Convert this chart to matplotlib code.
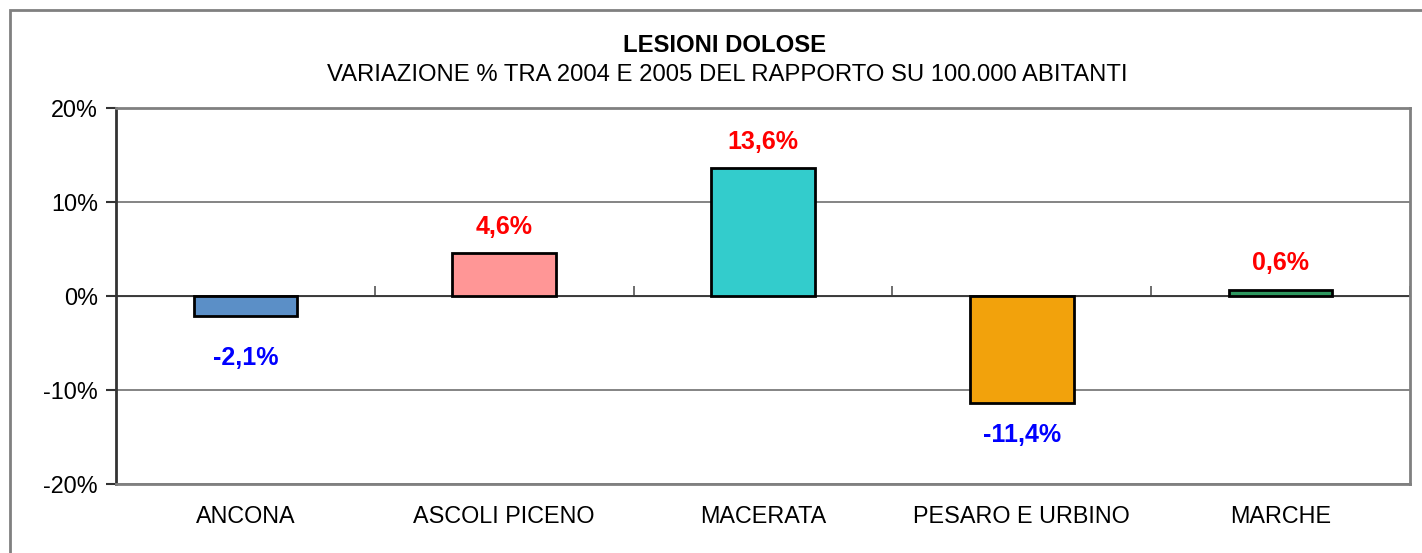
import matplotlib.pyplot as plt
from matplotlib.patches import Rectangle
from matplotlib.ticker import FuncFormatter

plt.rcParams['font.family'] = ['Liberation Sans', 'DejaVu Sans']

categories = ["ANCONA", "ASCOLI PICENO", "MACERATA", "PESARO E URBINO", "MARCHE"]
values = [-2.1, 4.6, 13.6, -11.4, 0.6]
colors = ["#5B8FC7", "#FF9696", "#33CCCC", "#F2A20C", "#2E9960"]

fig = plt.figure(figsize=(14.22, 5.53), dpi=100)
ax = fig.add_axes([116/1422, 69/553, 1294/1422, 376/553])

# bordo del grafico
fig.patches.append(Rectangle((10/1422, -0.1), 1.2, (543/553) + 0.1, transform=fig.transFigure,
                             fill=False, edgecolor="#808080", linewidth=2, zorder=0))

x = range(len(categories))
ax.bar(x, values, width=0.4, color=colors, edgecolor="black", linewidth=2, zorder=3)

ax.set_xlim(-0.5, len(categories) - 0.5)
ax.set_ylim(-20, 20)
ax.set_yticks([-20, -10, 0, 10, 20])
ax.yaxis.set_major_formatter(FuncFormatter(lambda v, p: "%d%%" % v))
ax.yaxis.grid(True, color="#707070", linewidth=1.2, zorder=1)
ax.axhline(0, color="#333333", linewidth=1.2, zorder=2)
ax.set_xticks(list(x))
ax.set_xticklabels(categories)
ax.tick_params(axis="x", length=0, pad=15, labelsize=16.8)
ax.tick_params(axis="y", length=7, width=1.5, color="#333333", pad=6, labelsize=16.8)

for s in ["top", "right", "bottom"]:
    ax.spines[s].set_color("#808080")
    ax.spines[s].set_linewidth(2)
ax.spines["left"].set_color("#333333")
ax.spines["left"].set_linewidth(2)

# tacche sull'asse dello zero
sec = ax.secondary_xaxis(0.5)
sec.set_xticks([i + 0.5 for i in x])
sec.set_xticklabels([])
sec.tick_params(axis="x", direction="out", length=7, width=1.2, color="#555555")
sec.spines["bottom"].set_visible(False)

# etichette dei valori
offsets = [-42, 26, 26, -32, 27]
for i, v in enumerate(values):
    txt = ("%.1f%%" % v).replace(".", ",")
    col = "red" if v > 0 else "blue"
    ax.annotate(txt, (i, v), xytext=(0, offsets[i]), textcoords="offset pixels",
                ha="center", va="center", color=col, fontsize=18, fontweight="bold", zorder=4)

fig.text(725/1422, 1 - 45/553, "LESIONI DOLOSE", ha="center", va="center", fontsize=17.2, fontweight="bold")
fig.text(727/1422, 1 - 75/553, "VARIAZIONE % TRA 2004 E 2005 DEL RAPPORTO SU 100.000 ABITANTI",
         ha="center", va="center", fontsize=17.2)

fig.savefig("out.png", dpi=100)
